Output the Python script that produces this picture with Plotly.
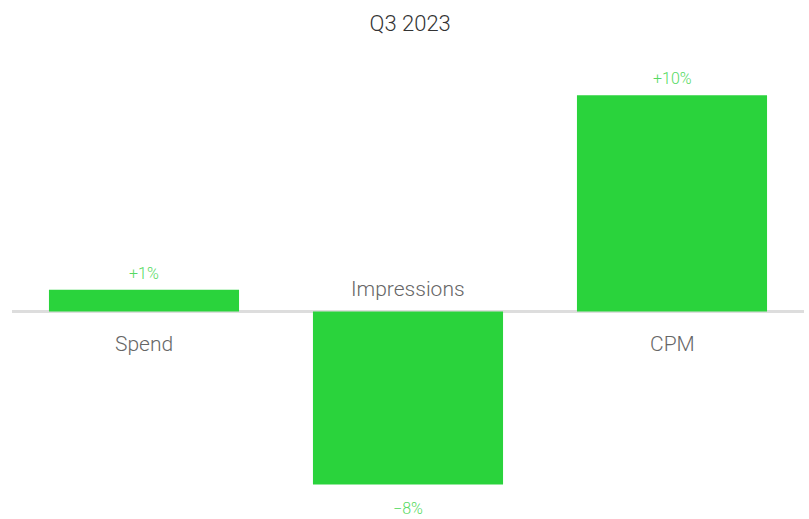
import plotly.graph_objects as go

categories = ["Spend", "Impressions", "CPM"]
changes = [1, -8, 10]
title_text = "Q3 2023"

bar_color = "#2ad33c"
label_color = "#55da62"
font_family = "Roboto, 'Open Sans', sans-serif"


def pct_label(v):
    s = f"{v:+.0f}%"
    return s.replace("-", "\u2212")


fig = go.Figure()
fig.add_trace(go.Bar(
    x=categories,
    y=changes,
    marker=dict(color=bar_color, line=dict(width=0)),
    hoverinfo="skip",
))

annotations = []
for cat, v in zip(categories, changes):
    # value label just beyond the end of each bar
    annotations.append(dict(
        x=cat, y=v, xref="x", yref="y",
        text=pct_label(v), showarrow=False,
        yanchor="bottom" if v >= 0 else "top",
        yshift=5 if v >= 0 else -13,
        font=dict(family=font_family, size=16, color=label_color, weight=300),
    ))
    # category name on the opposite side of the zero line
    annotations.append(dict(
        x=cat, y=0, xref="x", yref="y",
        text=cat, showarrow=False,
        yanchor="middle",
        yshift=-33 if v >= 0 else 22,
        font=dict(family=font_family, size=21, color="#666666", weight=300),
    ))

fig.update_layout(
    width=809, height=519,
    margin=dict(l=12, r=5, t=52, b=13),
    paper_bgcolor="white", plot_bgcolor="white",
    bargap=0.28,
    showlegend=False,
    title=dict(text=title_text, x=0.507, xanchor="center", y=0.955, yanchor="middle",
               font=dict(family=font_family, size=22, color="#333333", weight=300)),
    xaxis=dict(showticklabels=False, showgrid=False, zeroline=False, showline=False,
               ticks="", range=[-0.5, 2.5], fixedrange=True),
    yaxis=dict(showticklabels=False, showgrid=False, zeroline=True, zerolinecolor="#dddddd",
               zerolinewidth=3, showline=False, ticks="", range=[-9, 12], fixedrange=True),
    annotations=annotations,
)

fig.write_html("out.html", config={"displayModeBar": False})
